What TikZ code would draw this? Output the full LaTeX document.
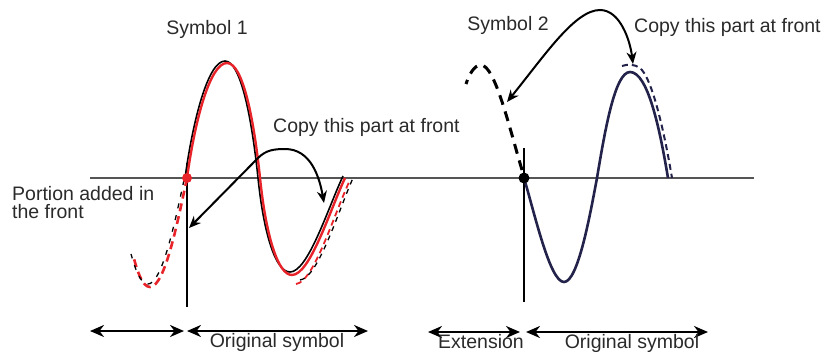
\documentclass[tikz,border=0pt]{standalone}
\usepackage{fontspec}
\setmainfont{Liberation Sans}
\usetikzlibrary{arrows.meta}
\definecolor{navy}{HTML}{22224A}
\definecolor{redc}{HTML}{E8242A}
\definecolor{axisc}{HTML}{555555}
\definecolor{txt}{HTML}{2A2A2A}
\tikzset{
  lbl/.style={inner sep=0pt, text=txt, font=\fontsize{19.5}{18}\selectfont},
  axisline/.style={draw=axisc, line width=2.6pt},
  vline/.style={draw=black, line width=2.6pt},
  dimarrow/.style={draw=black, line width=2.8pt, {Stealth[length=14pt,width=12pt]}-{Stealth[length=14pt,width=12pt]}},
  copyarrow/.style={draw=black, line width=2pt, {Stealth[length=12pt,width=10pt]}-{Stealth[length=12pt,width=10pt]}},
  dashext/.style={line width=2.6pt, dash pattern=on 8pt off 5pt},
}
\begin{document}
\begin{tikzpicture}[x=1pt,y=-1pt]
\useasboundingbox (0,0) rectangle (822,354);
% axis
\coordinate (axL) at (90,178);
\coordinate (axR) at (754,178);
\draw[axisline] (axL) -- (axR);
% vertical lines
\coordinate (v1t) at (187,163); \coordinate (v1b) at (187,307);
\coordinate (v2t) at (524,148); \coordinate (v2b) at (524,302);
\draw[vline] (v1t) -- (v1b);
\draw[vline] (v2t) -- (v2b);

% ---- Symbol 1 ----
% black original (slightly offset)
\draw[black, line width=1.6pt] (185,178) .. controls (193,120) and (208,61) .. (225,61)
  .. controls (241,61) and (252,120) .. (258,178)
  .. controls (264,236) and (276,272) .. (290,272)
  .. controls (308,272) and (328,208) .. (343,176);
% red copy
\draw[redc, line width=2.4pt] (187,178) .. controls (195,120) and (210,63) .. (227,63)
  .. controls (243,63) and (254,120) .. (260,178)
  .. controls (266,236) and (278,275) .. (292,275)
  .. controls (310,275) and (330,210) .. (345,178);
% dashed parallels on last part
\draw[redc, line width=1.8pt, dash pattern=on 6pt off 4pt] (296,284) .. controls (314,282) and (334,214) .. (350,180);
\draw[black, line width=1.3pt, dash pattern=on 5pt off 5pt] (300,280) .. controls (318,278) and (338,212) .. (353,178);
% dashed front extension
\draw[redc, dashext] (187,178) .. controls (178,220) and (165,287) .. (150,287) .. controls (142,287) and (137,270) .. (133,255);
\draw[black, line width=1.3pt, dash pattern=on 5pt off 7pt] (184,180) .. controls (175,222) and (162,284) .. (148,284) .. controls (140,284) and (135,268) .. (131,254);
% red dot
\fill[redc] (187,178) circle (5pt);
% copy arrow
\coordinate (c1a) at (189,228);
\coordinate (c1m) at (258,158);
\coordinate (c1t) at (285,149);
\coordinate (c1b) at (324,203);
\draw[copyarrow] (c1a) -- (c1m) to[out=45,in=180] (c1t) to[out=0,in=100] (c1b);

\node[lbl, anchor=base] (s1) at (207,34) {Symbol 1};
\node[lbl, anchor=base west] (cp1) at (273,132) {Copy this part at front};
\node[lbl, anchor=base west, align=left] (por) at (12,218) {Portion added in\\the front};

% bottom arrows left
\coordinate (d1a) at (90,331); \coordinate (d1b) at (184,331);
\coordinate (d2a) at (187,331); \coordinate (d2b) at (368,331);
\draw[dimarrow] (d1a) -- (d1b);
\draw[dimarrow] (d2a) -- (d2b);
\node[lbl, anchor=base] (os1) at (277,347) {Original symbol};

% ---- Symbol 2 ----
\draw[navy, line width=2.6pt] (524,178) .. controls (535,215) and (550,282) .. (564,282)
  .. controls (578,282) and (590,215) .. (597,178)
  .. controls (605,130) and (615,72) .. (630,72)
  .. controls (648,72) and (660,130) .. (668,178);
\draw[navy, line width=2pt, dash pattern=on 6pt off 4pt] (622,66) .. controls (628,64) and (634,64) .. (640,68) .. controls (652,78) and (664,130) .. (672,178);
% dashed front extension
\draw[black, dashext, line width=3pt, dash pattern=on 10pt off 7pt] (522,170) .. controls (510,130) and (495,65) .. (481,65) .. controls (474,65) and (469,75) .. (466,84);
\fill[black] (524,178) circle (5.5pt);
% copy arrow
\coordinate (c2a) at (507,102);
\coordinate (c2t) at (600,10);
\coordinate (c2b) at (633,64);
\draw[copyarrow] (c2a) .. controls (545,55) and (575,10) .. (c2t) .. controls (620,10) and (630,40) .. (c2b);

\node[lbl, anchor=base] (s2) at (508,30) {Symbol 2};
\node[lbl, anchor=base west] (cp2) at (634,32) {Copy this part at front};

% bottom arrows right
\coordinate (e1a) at (428,332); \coordinate (e1b) at (520,332);
\coordinate (e2a) at (526,332); \coordinate (e2b) at (708,332);
\draw[dimarrow] (e1a) -- (e1b);
\draw[dimarrow] (e2a) -- (e2b);
\node[lbl, anchor=base] (ext) at (481,348) {Extension};
\node[lbl, anchor=base] (os2) at (632,348) {Original symbol};
\end{tikzpicture}
\end{document}
